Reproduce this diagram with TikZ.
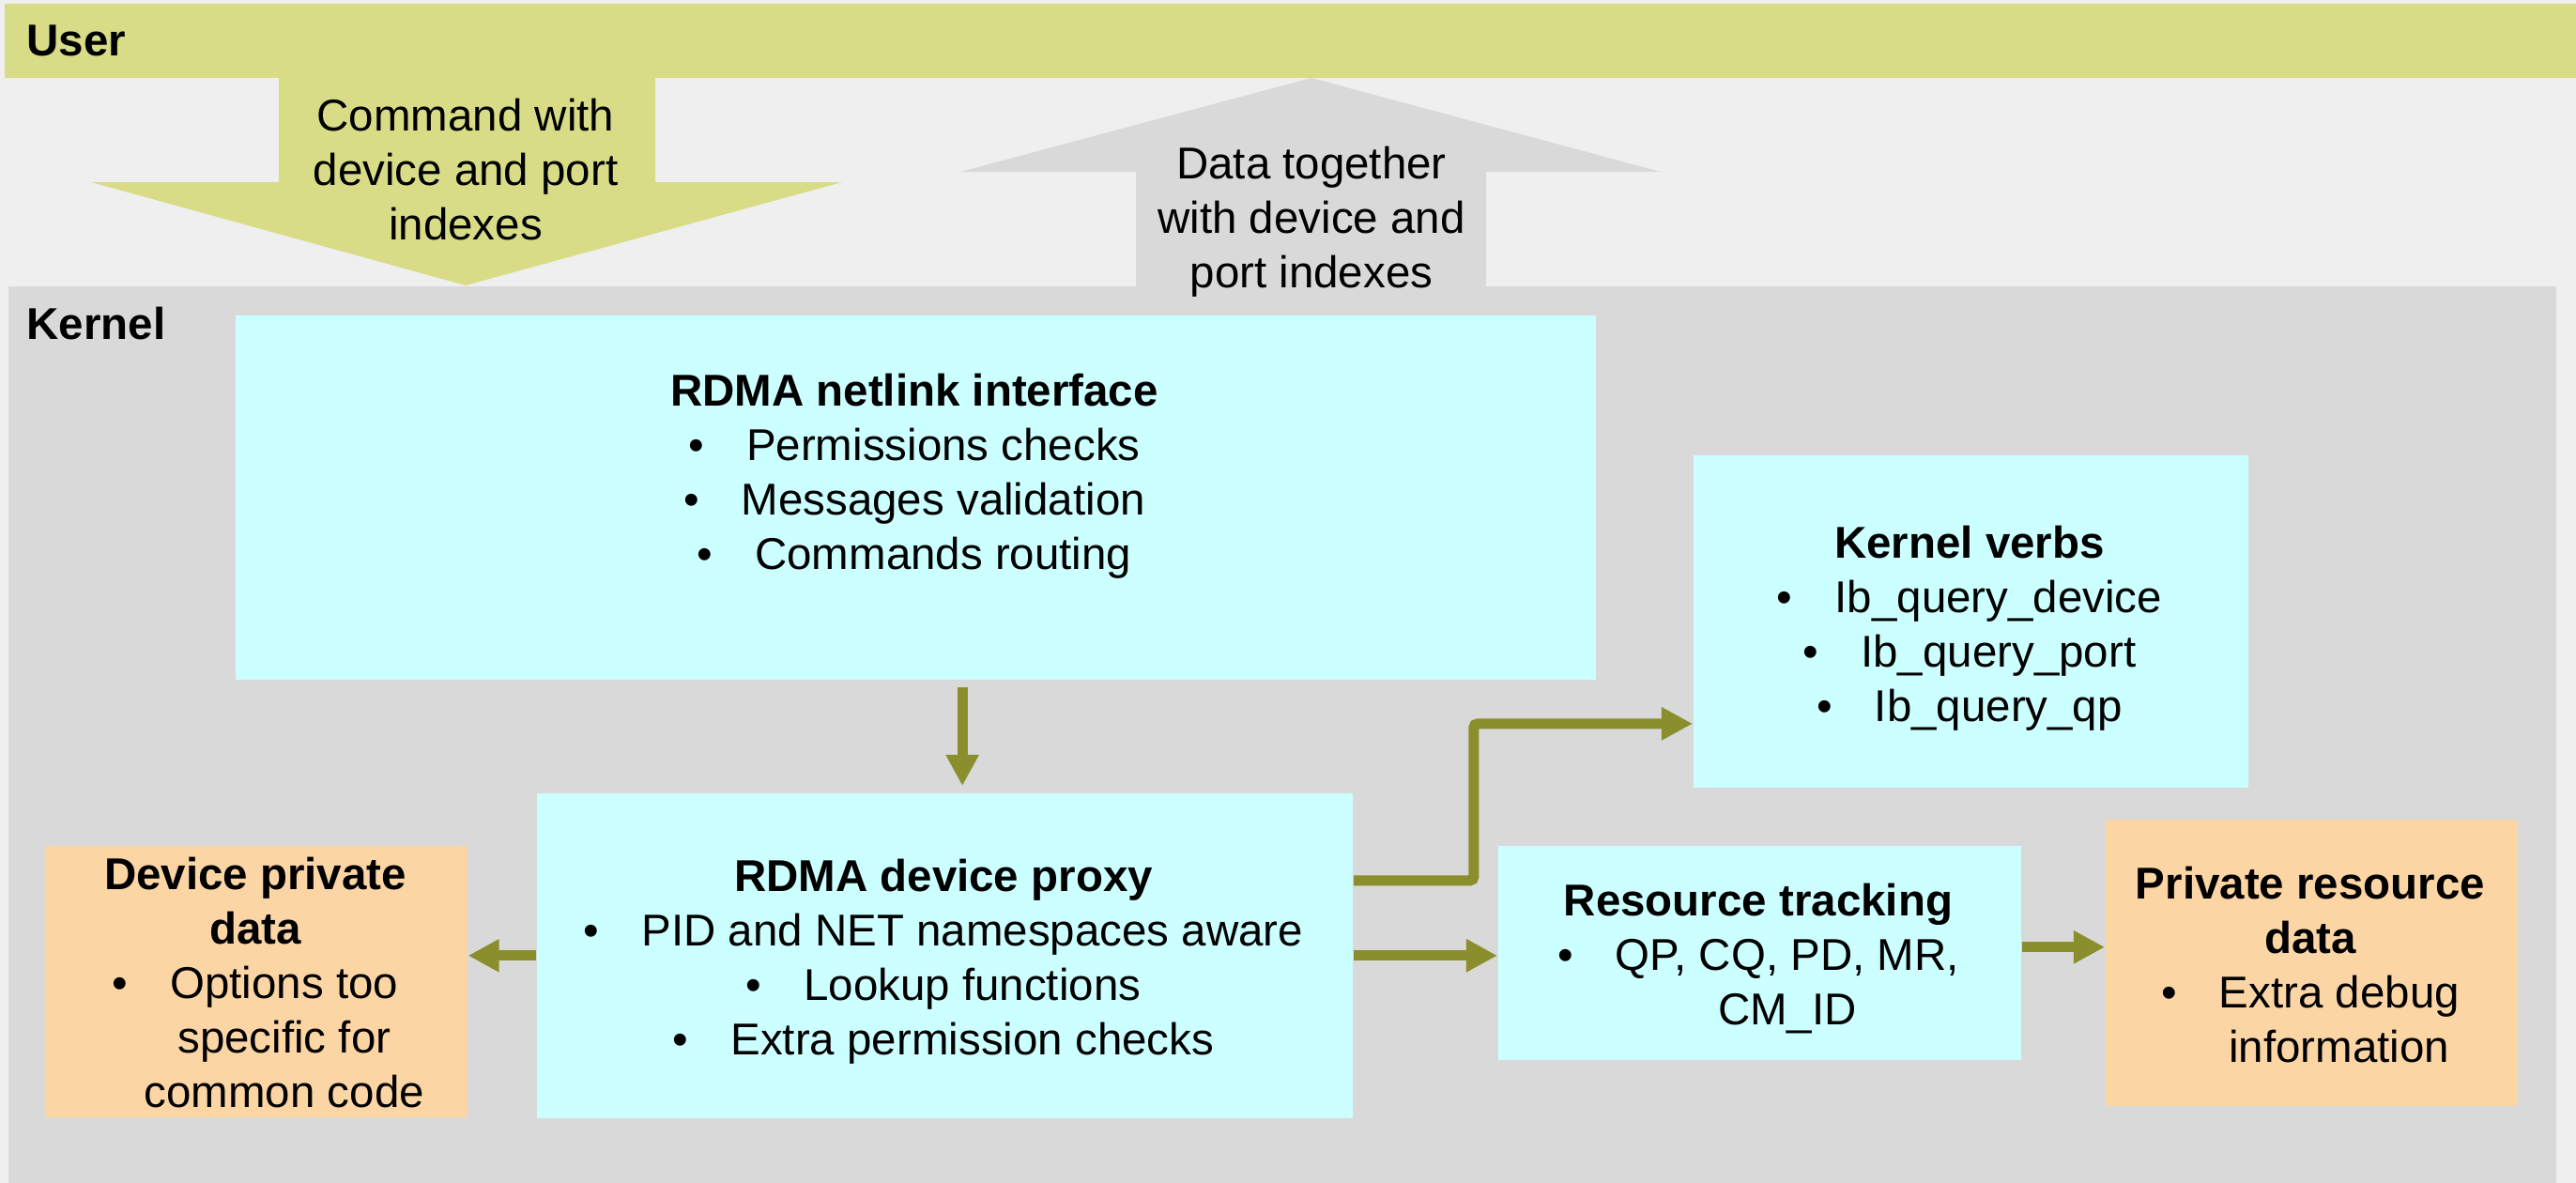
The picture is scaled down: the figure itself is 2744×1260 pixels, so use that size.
\documentclass[tikz,border=0pt]{standalone}
\usepackage{fontspec}
\setmainfont{Liberation Sans}
\usetikzlibrary{arrows.meta,calc}
\definecolor{bgc}{HTML}{EFEFEF}
\definecolor{userc}{HTML}{D8DC86}
\definecolor{kernelc}{HTML}{D9D9D9}
\definecolor{cyanc}{HTML}{CCFFFF}
\definecolor{orangec}{HTML}{FCD5A5}
\definecolor{olivec}{HTML}{8A8E2C}
\newcommand\bul{\makebox[1.3em][l]{\textbullet}}
\newcommand\hang{\hphantom{\bul}}
\begin{document}
\begin{tikzpicture}[x=0.01cm,y=-0.01cm,
  txt/.style={font=\fontsize{13.5pt}{16.5pt}\selectfont, align=center, inner sep=0pt, anchor=north},
  lbl/.style={font=\fontsize{13.5pt}{16.5pt}\selectfont\bfseries, inner sep=0pt, anchor=west},
  box/.style={inner sep=0pt, anchor=north west, draw=none},
  cbox/.style={box, fill=cyanc},
  obox/.style={box, fill=orangec},
  conn/.style={draw=olivec, line width=0.11cm, -{Triangle[length=0.33cm,width=0.33cm]}},
]
\useasboundingbox (0,0) rectangle (2744,1260);
\fill[bgc] (0,0) rectangle (2744,1260);
% layers
\fill[userc] (5,4) rectangle (2744,83);
\fill[kernelc] (9,305) rectangle (2723,1260);
% big block arrows
\fill[userc] (297,83) -- (698,83) -- (698,194) -- (897,194) -- (496,304) -- (97,194) -- (297,194) -- cycle;
\fill[kernelc] (1210,305) -- (1210,183) -- (1023,183) -- (1397,83) -- (1769,183) -- (1583,183) -- (1583,305) -- cycle;
\node[lbl] (userL) at (28,43) {User};
\node[lbl] (kernelL) at (28,345) {Kernel};
\node[txt] (cmdT) at (496,98) {\strut Command with\\device and port\\indexes};
\node[txt] (dataT) at (1397,149) {\strut Data together\\with device and\\port indexes};
% boxes
\node[cbox, minimum width=14.48cm, minimum height=3.88cm] (netlink) at (250,335) {};
\node[cbox, minimum width=8.69cm, minimum height=3.46cm] (proxy) at (571,844) {};
\node[cbox, minimum width=5.91cm, minimum height=3.54cm] (kverbs) at (1803,484) {};
\node[cbox, minimum width=5.57cm, minimum height=2.28cm] (resource) at (1595,900) {};
\node[obox, minimum width=4.50cm, minimum height=2.89cm] (devpriv) at (47,900) {};
\node[obox, minimum width=4.39cm, minimum height=3.05cm] (privres) at (2242,872) {};
% box texts
\node[txt] (netlinkT) at (974,391) {\strut\textbf{RDMA netlink interface}\\\bul Permissions checks\\\bul Messages validation\\\bul Commands routing};
\node[txt] (proxyT) at (1005,908) {\strut\textbf{RDMA device proxy}\\\bul PID and NET namespaces aware\\\bul Lookup functions\\\bul Extra permission checks};
\node[txt] (kverbsT) at (2098,553) {\strut\textbf{Kernel verbs}\\\bul Ib\_query\_device\\\bul Ib\_query\_port\\\bul Ib\_query\_qp};
\node[txt] (resourceT) at (1873,934) {\strut\textbf{Resource tracking}\\\bul QP, CQ, PD, MR,\\\hang CM\_ID};
\node[txt] (devprivT) at (272,906) {\strut\textbf{Device private}\\\textbf{data}\\\bul Options too\\\hang specific for\\\hang common code};
\node[txt] (privresT) at (2461,916) {\strut\textbf{Private resource}\\\textbf{data}\\\bul Extra debug\\\hang information};
% connectors
\coordinate (nla) at ($(netlink.south)+(50,0)$);
\draw[conn, shorten <=0.07cm, shorten >=0.07cm] (nla) -- (nla |- proxy.north);
\coordinate (p1) at ($(proxy.east)+(0,-80)$);
\coordinate (k1) at ($(kverbs.west)+(0,109)$);
\draw[conn, rounded corners=0.04cm] (p1) -- ++(128,0) |- (k1);
\draw[conn] (proxy.east) -- (proxy.east -| resource.west);
\draw[conn] (proxy.west) -- (proxy.west -| devpriv.east);
\coordinate (r1) at ($(resource.east)+(0,-6)$);
\draw[conn] (r1) -- (r1 -| privres.west);
\end{tikzpicture}
\end{document}
